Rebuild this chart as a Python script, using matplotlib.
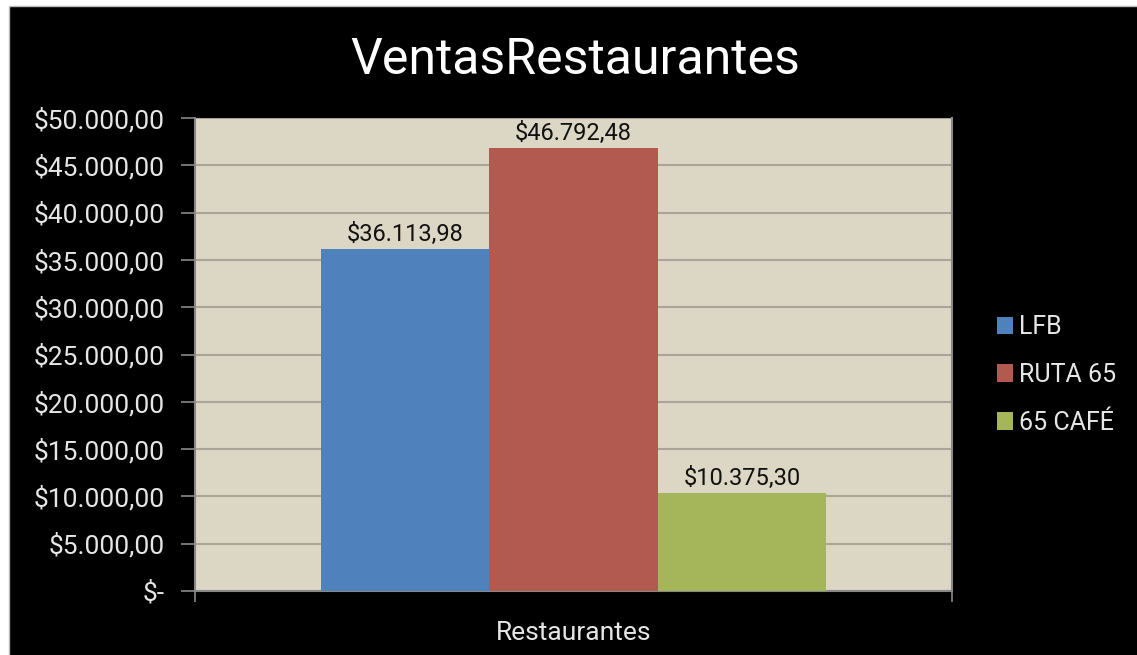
import matplotlib.pyplot as plt
from matplotlib.patches import Rectangle
import numpy as np

plt.rcParams["font.family"] = ["Roboto", "DejaVu Sans"]

# datos
restaurantes = ["LFB", "RUTA 65", "65 CAFÉ"]
ventas = [36113.98, 46792.48, 10375.30]
colores = ["#4F81BD", "#B35A50", "#A5B55A"]
yticks = [0, 5000, 10000, 15000, 20000, 25000, 30000, 35000, 40000, 45000, 50000]


def fmt_peso(v):
    # formato espanol: $36.113,98
    s = f"{v:,.2f}".replace(",", "X").replace(".", ",").replace("X", ".")
    return "$" + s


fig = plt.figure(figsize=(11.37, 6.55), dpi=100)
fig.patch.set_facecolor("white")
fig.patches.append(
    Rectangle((9 / 1137, -0.05), 1.1, 1.05 - 6 / 655, transform=fig.transFigure,
              facecolor="black", edgecolor="#BBBBBB", linewidth=1.0, zorder=-10)
)

ax = fig.add_axes([195 / 1137, 64 / 655, (952 - 195) / 1137, (591 - 118) / 655])
ax.set_facecolor("#DCD7C4")

ancho = 0.2225
xs = (np.arange(len(ventas)) - 1) * ancho
for x, v, c, nombre in zip(xs, ventas, colores, restaurantes):
    ax.bar(x, v, width=ancho, color=c, label=nombre, zorder=3)
    ax.text(x, v + 350, fmt_peso(v), ha="center", va="bottom",
            fontsize=17, color="#111111", zorder=4)

ax.set_xlim(-0.5, 0.5)
ax.set_ylim(0, 50000)
ax.set_yticks(yticks)
ax.set_yticklabels(["$-"] + [fmt_peso(v) for v in yticks[1:]])
ax.yaxis.grid(True, color="#A9A699", linewidth=1.5, zorder=1)
ax.set_axisbelow(True)

ax.set_xticks([-0.5, 0.5])
ax.set_xticklabels(["", ""])
ax.tick_params(axis="x", length=8, color="#888888", width=1.2)
ax.tick_params(axis="y", length=10, color="#888888", width=1.2,
               labelsize=19, labelcolor="#E6E6E6", pad=12)
for lado in ["top", "right"]:
    ax.spines[lado].set_visible(False)
for lado in ["left", "bottom"]:
    ax.spines[lado].set_color("#888888")
    ax.spines[lado].set_linewidth(1.5)
ax.plot([1, 1], [0, 1], transform=ax.transAxes, color="#888888",
        linewidth=1.5, clip_on=False, zorder=5)

ax.set_xlabel("Restaurantes", fontsize=19, color="#E6E6E6", labelpad=10)

fig.text(575 / 1137, 1 - 60 / 655, "VentasRestaurantes", ha="center",
         va="center", fontsize=36, color="white")

fig.legend(loc="center left", bbox_to_anchor=(974 / 1137, 1 - 375 / 655),
           frameon=False, fontsize=18, labelcolor="#E6E6E6",
           handlelength=0.65, handleheight=0.7, handletextpad=0.25,
           labelspacing=0.95)

fig.savefig("out.png", dpi=100, facecolor=fig.get_facecolor())
